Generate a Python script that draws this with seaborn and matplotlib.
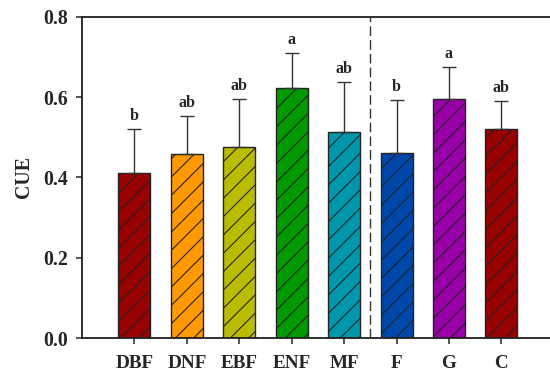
import numpy as np
import pandas as pd
import matplotlib
matplotlib.use("Agg")
import matplotlib.pyplot as plt
import seaborn as sns

# data
groups = ["DBF", "DNF", "EBF", "ENF", "MF", "F", "G", "C"]
cue = [0.411, 0.458, 0.476, 0.623, 0.514, 0.462, 0.595, 0.521]
cue_err = [0.110, 0.094, 0.120, 0.086, 0.124, 0.130, 0.081, 0.069]
letters = ["b", "ab", "ab", "a", "ab", "b", "a", "ab"]
bar_colors = ["#990000", "#FF9900", "#BBBB00", "#009900",
              "#0097AC", "#0047AB", "#9900AA", "#990000"]

df = pd.DataFrame({"group": groups, "CUE": cue})

sns.set_style("ticks")
plt.rcParams["font.family"] = ["Liberation Serif", "DejaVu Serif"]
plt.rcParams["font.weight"] = "bold"
plt.rcParams["hatch.linewidth"] = 0.7

fig = plt.figure(figsize=(5.0, 376 / 110), dpi=110)
ax = fig.add_axes([0.149, 0.101, 0.858, 0.854])

sns.barplot(
    data=df,
    x="group",
    y="CUE",
    hue="group",
    palette=dict(zip(groups, bar_colors)),
    saturation=1,
    width=0.61,
    edgecolor="#222222",
    linewidth=0.9,
    legend=False,
    ax=ax
)

for p in ax.patches:
    p.set_hatch("//")

xpos = np.arange(len(groups))

# upper error bars only
ax.errorbar(
    xpos, cue,
    yerr=[np.zeros(len(cue)), cue_err],
    fmt="none",
    ecolor="#333333",
    elinewidth=0.9,
    capsize=4.5,
    capthick=0.9,
    zorder=1
)

# significance letters
for x, m, e, t in zip(xpos, cue, cue_err, letters):
    ax.annotate(
        t,
        (x, m + e),
        xytext=(0, 6),
        textcoords="offset points",
        ha="center",
        va="baseline",
        fontsize=10.5,
        fontweight="bold"
    )

# separator between forest types and the rest
ax.axvline(4.5, color="#333333", linestyle=(0, (7, 3)), linewidth=0.9)

ax.set_xlim(-1, 8)
ax.set_ylim(0, 0.8)
ax.set_yticks([0.0, 0.2, 0.4, 0.6, 0.8])
ax.set_yticklabels(["0.0", "0.2", "0.4", "0.6", "0.8"])

ax.set_xlabel("")
ax.set_ylabel("CUE", fontsize=13, fontweight="bold", labelpad=6)

ax.tick_params(axis="y", labelsize=13, length=4, width=1, pad=5)
ax.tick_params(axis="x", labelsize=12.5, length=4, width=1, pad=7)

for s in ax.spines.values():
    s.set_linewidth(1.2)
    s.set_color("#222222")

fig.savefig("out.png", dpi=110)
